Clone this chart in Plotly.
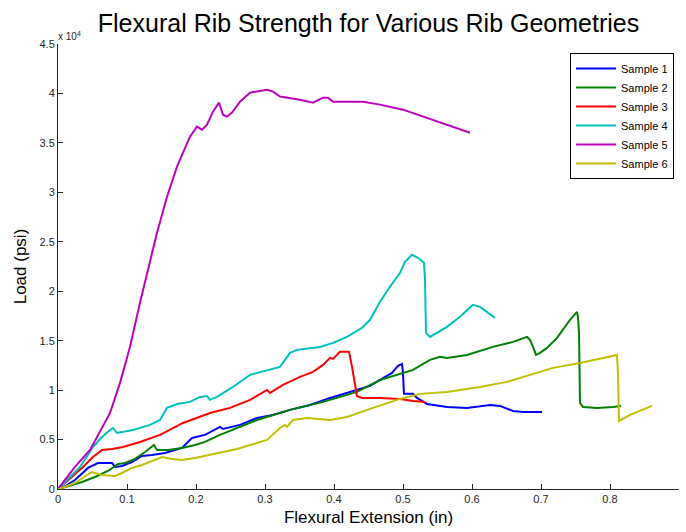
import plotly.graph_objects as go

# Flexural extension (in) and load (x1e4 psi) for each sample
s1_x = [0, 0.0058, 0.0246, 0.0435, 0.058, 0.0725, 0.0783, 0.0826, 0.0928, 0.1072, 0.1217, 0.1362, 0.1551, 0.1797, 0.1942, 0.213, 0.2348, 0.2391, 0.2638, 0.2884, 0.3116, 0.3362, 0.3652, 0.3942, 0.4232, 0.4522, 0.4667, 0.484, 0.4928, 0.4986, 0.5, 0.5014, 0.5145, 0.5203, 0.5348, 0.5638, 0.5928, 0.6261, 0.6406, 0.6594, 0.6739, 0.7014]
s1_y = [0, 0.01, 0.091, 0.213, 0.263, 0.263, 0.263, 0.223, 0.233, 0.273, 0.334, 0.344, 0.364, 0.415, 0.516, 0.547, 0.628, 0.607, 0.648, 0.719, 0.749, 0.800, 0.850, 0.921, 0.982, 1.043, 1.103, 1.174, 1.245, 1.265, 1.174, 0.962, 0.962, 0.921, 0.860, 0.830, 0.820, 0.850, 0.840, 0.789, 0.779, 0.779]

s2_x = [0, 0.0058, 0.0348, 0.0536, 0.0725, 0.087, 0.0971, 0.1116, 0.1261, 0.1362, 0.1391, 0.1435, 0.1594, 0.1797, 0.1986, 0.213, 0.2348, 0.2884, 0.3362, 0.3841, 0.4333, 0.4667, 0.5145, 0.5391, 0.5536, 0.5638, 0.5928, 0.6304, 0.6594, 0.6797, 0.6841, 0.6884, 0.6928, 0.6986, 0.7087, 0.7232, 0.742, 0.7522, 0.7536, 0.7551, 0.7565, 0.7609, 0.7812, 0.8043, 0.8159]
s2_y = [0, 0.01, 0.071, 0.121, 0.182, 0.253, 0.263, 0.304, 0.374, 0.425, 0.445, 0.395, 0.395, 0.415, 0.445, 0.476, 0.547, 0.698, 0.800, 0.881, 0.982, 1.103, 1.204, 1.306, 1.336, 1.326, 1.356, 1.437, 1.488, 1.538, 1.508, 1.437, 1.356, 1.377, 1.427, 1.528, 1.711, 1.791, 1.741, 1.579, 0.870, 0.830, 0.820, 0.830, 0.840]

s3_x = [0, 0.0362, 0.0507, 0.0638, 0.0783, 0.0942, 0.1188, 0.1478, 0.1812, 0.2058, 0.2203, 0.2493, 0.2783, 0.3029, 0.3072, 0.3261, 0.3507, 0.3696, 0.3841, 0.3942, 0.3986, 0.4087, 0.4217, 0.4261, 0.4304, 0.4333, 0.4406, 0.4667, 0.4957, 0.5145, 0.5319]
s3_y = [0, 0.223, 0.324, 0.395, 0.405, 0.425, 0.476, 0.547, 0.668, 0.729, 0.769, 0.820, 0.901, 1.002, 0.972, 1.053, 1.134, 1.184, 1.255, 1.326, 1.316, 1.387, 1.387, 1.235, 1.032, 0.941, 0.921, 0.921, 0.911, 0.891, 0.881]

s4_x = [0, 0.0319, 0.0507, 0.0638, 0.0754, 0.0797, 0.0855, 0.0928, 0.1087, 0.1333, 0.1478, 0.158, 0.1725, 0.1913, 0.2058, 0.2159, 0.2203, 0.2304, 0.2536, 0.2783, 0.2884, 0.3072, 0.3217, 0.3362, 0.3464, 0.3797, 0.3986, 0.4188, 0.4406, 0.4522, 0.4667, 0.4812, 0.4957, 0.5029, 0.513, 0.5217, 0.5304, 0.5319, 0.5333, 0.5391, 0.5493, 0.5638, 0.5826, 0.6014, 0.6116, 0.6217, 0.6333]
s4_y = [0, 0.223, 0.425, 0.526, 0.597, 0.617, 0.567, 0.577, 0.597, 0.648, 0.698, 0.820, 0.860, 0.881, 0.931, 0.941, 0.901, 0.931, 1.032, 1.154, 1.174, 1.204, 1.235, 1.377, 1.407, 1.437, 1.478, 1.538, 1.630, 1.711, 1.893, 2.045, 2.186, 2.298, 2.368, 2.338, 2.287, 2.115, 1.579, 1.538, 1.579, 1.640, 1.741, 1.862, 1.842, 1.791, 1.731]

s5_x = [0, 0.0246, 0.0464, 0.0609, 0.0754, 0.0899, 0.1043, 0.1188, 0.1333, 0.1435, 0.158, 0.1725, 0.1812, 0.1913, 0.2014, 0.2087, 0.2159, 0.2246, 0.2333, 0.2391, 0.2449, 0.2522, 0.2638, 0.2783, 0.3029, 0.3116, 0.3217, 0.3507, 0.3696, 0.3841, 0.3913, 0.3986, 0.442, 0.4667, 0.5, 0.529, 0.5536, 0.5971]
s5_y = [0, 0.223, 0.395, 0.577, 0.769, 1.073, 1.437, 1.883, 2.318, 2.591, 2.955, 3.259, 3.401, 3.563, 3.664, 3.634, 3.684, 3.816, 3.907, 3.785, 3.765, 3.806, 3.917, 4.008, 4.038, 4.018, 3.968, 3.937, 3.907, 3.957, 3.957, 3.917, 3.917, 3.887, 3.836, 3.765, 3.704, 3.603]

s6_x = [0, 0.0058, 0.0246, 0.0391, 0.0493, 0.0536, 0.0638, 0.0826, 0.0928, 0.1072, 0.1217, 0.1406, 0.1507, 0.1652, 0.1797, 0.1986, 0.2304, 0.2594, 0.3029, 0.3217, 0.329, 0.3319, 0.3406, 0.3609, 0.3942, 0.4188, 0.4565, 0.4957, 0.5246, 0.5638, 0.6116, 0.6507, 0.6841, 0.7174, 0.7565, 0.8101, 0.8116, 0.813, 0.829, 0.8609]
s6_y = [0, 0.01, 0.061, 0.121, 0.172, 0.162, 0.142, 0.132, 0.162, 0.213, 0.243, 0.294, 0.324, 0.304, 0.294, 0.314, 0.364, 0.405, 0.496, 0.617, 0.648, 0.628, 0.698, 0.719, 0.698, 0.729, 0.820, 0.911, 0.962, 0.982, 1.032, 1.083, 1.154, 1.225, 1.275, 1.356, 1.174, 0.688, 0.749, 0.840]

names = ["Sample 1", "Sample 2", "Sample 3", "Sample 4", "Sample 5", "Sample 6"]
colors = ["#0000ff", "#008000", "#ff0000", "#00bfbf", "#bf00bf", "#bfbf00"]
xs = [s1_x, s2_x, s3_x, s4_x, s5_x, s6_x]
ys = [s1_y, s2_y, s3_y, s4_y, s5_y, s6_y]

x_ticks = [0, 0.1, 0.2, 0.3, 0.4, 0.5, 0.6, 0.7, 0.8, 0.9]
x_ticktext = ["0", "0.1", "0.2", "0.3", "0.4", "0.5", "0.6", "0.7", "0.8", "0.9"]
y_ticks_scaled = [0, 0.5, 1, 1.5, 2, 2.5, 3, 3.5, 4, 4.5]
y_ticktext = ["0", "0.5", "1", "1.5", "2", "2.5", "3", "3.5", "4", "4.5"]
scale = 1e4

fig = go.Figure()
for n, c, x, y in zip(names, colors, xs, ys):
    fig.add_trace(go.Scatter(x=x, y=[v * scale for v in y], mode="lines", name=n,
                             line=dict(color=c, width=2)))

font_fam = "Liberation Sans, Arial, sans-serif"
fig.update_layout(
    width=686, height=532,
    margin=dict(l=58, r=7, t=44, b=43),
    paper_bgcolor="white", plot_bgcolor="white",
    font=dict(family=font_fam, color="#000000"),
    title=dict(text="Flexural Rib Strength for Various Rib Geometries",
               x=0.5, xref="paper", xanchor="center",
               y=1 - 23 / 532, yref="container", yanchor="middle",
               font=dict(size=25, family=font_fam, color="#000000")),
    showlegend=True,
    legend=dict(x=0.992, xanchor="right", y=0.98, yanchor="top",
                bgcolor="white", bordercolor="#000000", borderwidth=1,
                font=dict(size=11, family=font_fam, color="#000000"),
                tracegroupgap=0, itemwidth=40),
)
fig.update_xaxes(range=[0, 0.9], tickvals=x_ticks, ticktext=x_ticktext,
                 showgrid=False, zeroline=False, showline=True, linecolor="#262626",
                 linewidth=1, ticks="inside", ticklen=5, tickcolor="#262626",
                 tickfont=dict(size=11, color="#262626"),
                 title=dict(text="Flexural Extension (in)", font=dict(size=17), standoff=6))
fig.update_yaxes(range=[0, 45000], tickvals=[v * scale for v in y_ticks_scaled], ticktext=y_ticktext,
                 showgrid=False, zeroline=False, showline=True, linecolor="#262626",
                 linewidth=1, ticks="inside", ticklen=5, tickcolor="#262626",
                 tickfont=dict(size=11, color="#262626"),
                 title=dict(text="Load (psi)", font=dict(size=17), standoff=8))
fig.add_annotation(text="x 10<sup>4</sup>", xref="paper", yref="paper", x=0, y=1,
                   xanchor="left", yanchor="bottom", showarrow=False,
                   font=dict(size=10, color="#262626"), xshift=-2, yshift=0)

fig.write_html("out.html")
